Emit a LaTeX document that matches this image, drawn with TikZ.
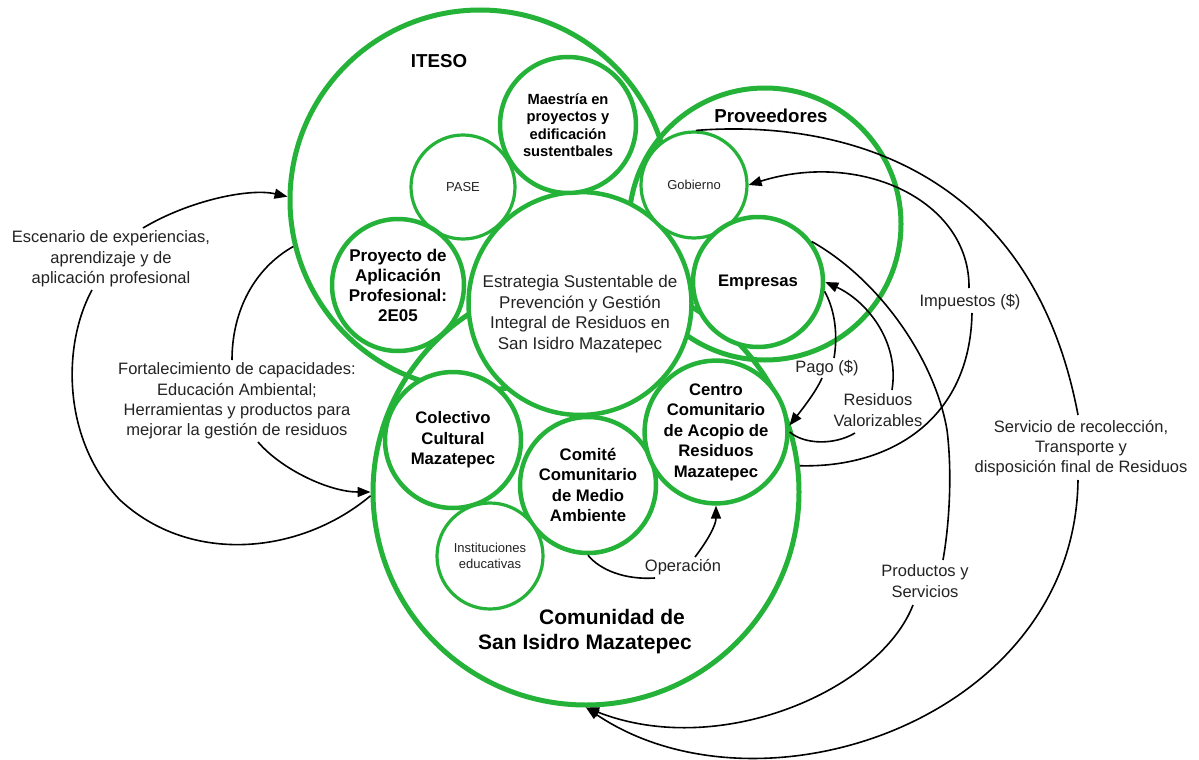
\documentclass[tikz,border=0pt]{standalone}
\usepackage{fontspec}
\setmainfont{Liberation Sans}
\usetikzlibrary{arrows.meta}
\definecolor{grn}{RGB}{36,178,56}
\definecolor{txt}{RGB}{35,35,35}
\begin{document}
\begin{tikzpicture}[x=1pt,y=-1pt,
  bigc/.style={circle,draw=grn,line width=5pt,inner sep=0pt},
  midc/.style={circle,draw=grn,line width=4.5pt,fill=white,inner sep=0pt,align=center,
    font=\fontsize{16.7}{20.5}\selectfont\bfseries,text=black},
  smallc/.style={circle,draw=grn,line width=3.2pt,fill=white,inner sep=0pt,align=center,
    font=\fontsize{13}{15.5}\selectfont,text=txt},
  lbl/.style={align=center,font=\fontsize{16.5}{20.3}\selectfont,text=txt,inner sep=0pt},
  biglbl/.style={align=center,font=\fontsize{18.7}{22}\selectfont\bfseries,text=black,inner sep=0pt},
  conn/.style={line width=1.6pt,-{Triangle[length=13pt,width=10pt]}},
  lineonly/.style={line width=1.6pt},
]
\useasboundingbox (0,0) rectangle (1199,760);
\fill[white] (0,0) rectangle (1199,760);

% big circles
\node[bigc,minimum size=380pt] (iteso) at (480,200) {};
\node[bigc,minimum size=272pt] (prov) at (765,224) {};
\node[bigc,minimum size=426pt] (comunidad) at (586,492) {};

% inner circles
\node[circle,draw=grn,line width=4.5pt,fill=white,inner sep=0pt,minimum size=223pt] (strat) at (580,303.5) {};
\node[midc,minimum size=136pt,font=\fontsize{14.7}{17.4}\selectfont\bfseries] (maestria) at (568,125) {Maestría en\\proyectos y\\edificación\\sustentbales};
\node[smallc,minimum size=104pt] (pase) at (463,187) {PASE};
\node[midc,minimum size=132pt,font=\fontsize{17}{20}\selectfont\bfseries] (proyecto) at (398,285) {Proyecto de\\Aplicación\\Profesional:\\2E05};
\node[smallc,minimum size=106pt] (gobierno) at (694,185) {Gobierno};
\node[midc,minimum size=130pt] (empresas) at (758,282) {Empresas};
\node[midc,minimum size=136pt] (colectivo) at (453,440) {Colectivo\\Cultural\\Mazatepec};
\node[midc,minimum size=136pt] (comite) at (588,485) {Comité\\Comunitario\\de Medio\\Ambiente};
\node[midc,minimum size=138pt] (acopio) at (716,432) {Centro\\Comunitario\\de Acopio de\\Residuos\\Mazatepec};
\node[smallc,minimum size=106pt] (instit) at (490,556) {Instituciones\\educativas};

% titles
\node[biglbl] (itesolbl) at (439,61) {ITESO};
\node[biglbl] (provlbl) at (771,116) {Proveedores};
\node[align=center,font=\fontsize{21}{25}\selectfont\bfseries,inner sep=0pt] (comlbl) at (585,632) {\hspace*{54pt}Comunidad de\\San Isidro Mazatepec};
\node[lbl,font=\fontsize{17}{20.7}\selectfont] (strattext) at (580,314) {Estrategia Sustentable de\\Prevención y Gestión\\Integral de Residuos en\\San Isidro Mazatepec};

% connector labels
\node[lbl] (esc) at (111,259) {Escenario de experiencias,\\aprendizaje y de\\aplicación profesional};
\node[lbl] (fort) at (237,401) {Fortalecimiento de capacidades:\\Educación Ambiental;\\Herramientas y productos para\\mejorar la gestión de residuos};
\node[lbl] (pago) at (827,368) {Pago (\$)};
\node[lbl] (resval) at (878,410) {Residuos\\Valorizables};
\node[lbl] (imp) at (970,302) {Impuestos (\$)};
\node[lbl] (serv) at (1081,448) {Servicio de recolección,\\Transporte y\\disposición final de Residuos};
\node[lbl] (prod) at (925,581) {Productos y\\Servicios};
\node[lbl] (oper) at (683,567) {Operación};

% free ends at labels
\coordinate (escA) at (143,228);
\coordinate (escB) at (92,290);
\coordinate (forA) at (232,360);
\coordinate (forB) at (258,442);
\coordinate (pagoA) at (834,358);
\coordinate (pagoB) at (822,378);
\coordinate (resA) at (855,433);
\coordinate (resB) at (892,390);
\coordinate (impA) at (972,313);
\coordinate (impB) at (969,288);
\coordinate (prodA) at (943,560);
\coordinate (prodB) at (913,605);
\coordinate (servA) at (1078,415);
\coordinate (servB) at (1078,480);
\coordinate (opA) at (655,578);
\coordinate (opB) at (695,557);
\coordinate (prodM) at (947,430);
\coordinate (escM) at (120,500);

% connectors
\draw[conn] (escA) .. controls (190,200) and (250,188) .. (iteso.179);
\draw[lineonly] (comunidad.181) .. controls (300,555) and (190,565) .. (escM) .. controls (62,440) and (62,345) .. (escB);
\draw[lineonly] (iteso.194) .. controls (255,268) and (232,310) .. (forA);
\draw[conn] (forB) .. controls (282,470) and (330,492) .. (comunidad.180);

\draw[lineonly] (empresas.-8) .. controls (835,310) and (838,335) .. (pagoA);
\draw[conn] (pagoB) .. controls (816,392) and (800,412) .. (acopio.5);

\draw[lineonly] (acopio.0) .. controls (805,445) and (835,445) .. (resA);
\draw[conn] (resB) .. controls (900,340) and (865,300) .. (empresas.0);

\draw[lineonly] (comunidad.7) .. controls (890,468) and (970,420) .. (impA);
\draw[conn] (impB) .. controls (970,200) and (860,150) .. (gobierno.0);

\draw[lineonly] (empresas.37) .. controls (880,280) and (935,360) .. (prodM) .. controls (952,470) and (950,520) .. (prodA);
\draw[conn] (prodB) .. controls (880,690) and (720,760) .. (comunidad.270);

\draw[lineonly] (gobierno.88) .. controls (830,120) and (1030,160) .. (servA);
\draw[conn] (servB) .. controls (1075,720) and (760,825) .. (comunidad.270);

\draw[lineonly] (comite.270) .. controls (600,570) and (625,580) .. (opA);
\draw[conn] (opB) .. controls (708,540) and (716,525) .. (acopio.270);
\end{tikzpicture}
\end{document}
